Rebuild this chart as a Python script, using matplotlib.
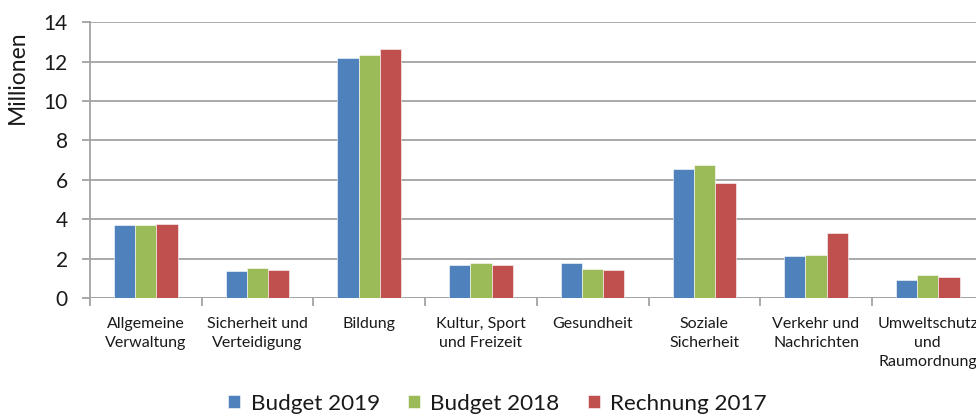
import matplotlib.pyplot as plt
import numpy as np

plt.rcParams['font.family'] = ['Lato', 'DejaVu Sans']

# categories and values (millions)
categories = ['Allgemeine\nVerwaltung', 'Sicherheit und\nVerteidigung', 'Bildung',
              'Kultur, Sport\nund Freizeit', 'Gesundheit', 'Soziale\nSicherheit',
              'Verkehr und\nNachrichten', 'Umweltschutz\nund\nRaumordnung']
budget_2019 = [3.71, 1.39, 12.17, 1.68, 1.78, 6.53, 2.12, 0.93]
budget_2018 = [3.71, 1.52, 12.32, 1.79, 1.46, 6.75, 2.18, 1.15]
rechnung_2017 = [3.76, 1.42, 12.64, 1.69, 1.41, 5.84, 3.30, 1.05]

series = [('Budget 2019', budget_2019, '#4F81BD'),
          ('Budget 2018', budget_2018, '#9BBB59'),
          ('Rechnung 2017', rechnung_2017, '#C0504D')]

fig = plt.figure(figsize=(9.76, 4.16), dpi=100)
ax = fig.add_axes([0.0922, 0.2837, 0.9156, 0.6627])

x = np.arange(len(categories))
w = 0.19
for i, (name, vals, col) in enumerate(series):
    ax.bar(x + (i - 1) * w, vals, width=w, color=col, label=name,
           edgecolor='white', linewidth=0.4, zorder=3)

ax.set_xlim(-0.5, len(categories) - 0.5)
ax.set_ylim(0, 14)
ax.set_yticks(range(0, 15, 2))
ax.yaxis.grid(True, color='#a3a3a3', linewidth=1.3, zorder=0)
ax.set_axisbelow(True)

for s in ['top', 'right', 'bottom']:
    ax.spines[s].set_visible(False)
ax.spines['left'].set_color('#a3a3a3')
ax.spines['left'].set_linewidth(1.3)
ax.axhline(0, color='#a3a3a3', linewidth=1.3, zorder=2)

ax.set_xticks(x)
ax.set_xticklabels(categories, fontsize=11.5, linespacing=1.45, va='top', color='#1a1a1a')
ax.set_xticks(np.arange(len(categories) + 1) - 0.5, minor=True)
ax.tick_params(axis='x', which='major', length=0, pad=14)
ax.tick_params(axis='x', which='minor', length=6, width=1.3, color='#a3a3a3')
ax.tick_params(axis='y', length=6, width=1.3, color='#a3a3a3', labelsize=15, pad=10,
               labelcolor='#1a1a1a')

ax.set_ylabel('Millionen', fontsize=16.5, color='#1a1a1a')
ax.yaxis.label.set_va('center')
ax.yaxis.set_label_coords(-0.0817, 0.80)

fig.legend(loc='center', bbox_to_anchor=(0.5097, 0.03), ncol=3, frameon=False,
           fontsize=16.2, handlelength=0.55, handleheight=0.55, handletextpad=0.45,
           columnspacing=1.25, labelcolor='#1a1a1a')

fig.savefig('out.png', dpi=100)
